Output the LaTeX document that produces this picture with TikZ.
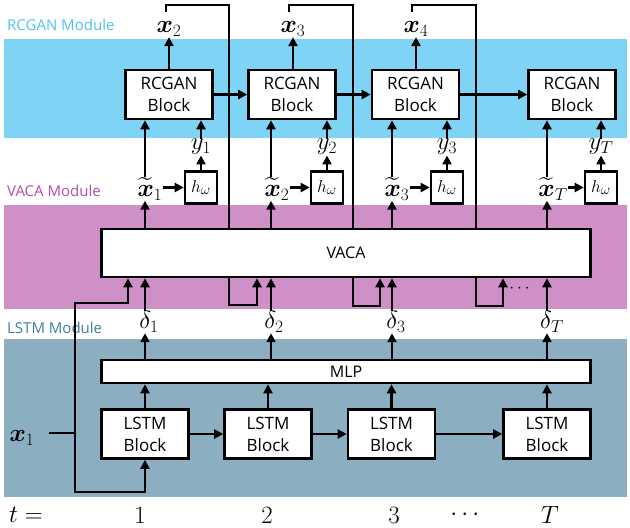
\documentclass[tikz,border=0pt]{standalone}
\usepackage{amsmath}
\usepackage[no-math]{fontspec}
\setmainfont{Open Sans}
\usetikzlibrary{arrows.meta}
\definecolor{rcband}{HTML}{7FD3F5}
\definecolor{vaband}{HTML}{CF8FC7}
\definecolor{lsband}{HTML}{8BAFC0}
\definecolor{rclab}{HTML}{4DC3F2}
\definecolor{valab}{HTML}{B34BA5}
\definecolor{lslab}{HTML}{3A7FA0}
\begin{document}
\begin{tikzpicture}[x=1pt,y=-1pt,
  ln/.style={line width=2.6pt},
  arr/.style={line width=2.6pt,-{Triangle[length=9pt,width=9pt]}},
  blk/.style={draw,line width=2.6pt,fill=white,minimum width=87pt,minimum height=49pt,align=center,inner sep=0pt,font=\fontsize{17}{22}\selectfont},
  wide/.style={draw,line width=2.6pt,fill=white,minimum width=489pt,inner sep=0pt,font=\fontsize{16}{19}\selectfont},
  hb/.style={draw,line width=2.6pt,fill=white,minimum size=32pt,inner sep=0pt,font=\fontsize{19}{22}\selectfont},
  mt/.style={inner sep=0.5pt,font=\fontsize{24}{28}\selectfont},
  modl/.style={anchor=west,inner sep=0pt,font=\fontsize{15}{18}\selectfont}]
\useasboundingbox (0,0) rectangle (630,528);
% bands
\fill[rcband] (4,39) rectangle (627,138);
\fill[vaband] (4,205) rectangle (627,309);
\fill[lsband] (4,339) rectangle (627,497);
% module labels
\node[modl,text=rclab] (mrc) at (7,25) {RCGAN Module};
\node[modl,text=valab] (mva) at (7,191) {VACA Module};
\node[modl,text=lslab] (mls) at (7,328) {LSTM Module};
% columns
\coordinate (c1) at (145,0);
\coordinate (c2) at (271,0);
\coordinate (c3) at (392,0);
\coordinate (c4) at (547,0);
% boxes
\node[blk] (r1) at (169,94.5) {RCGAN\\Block};
\node[blk] (r2) at (292,94.5) {RCGAN\\Block};
\node[blk] (r3) at (415.5,94.5) {RCGAN\\Block};
\node[blk] (r4) at (572,94.5) {RCGAN\\Block};
\node[blk] (l1) at (145,434) {LSTM\\Block};
\node[blk] (l2) at (268,434) {LSTM\\Block};
\node[blk] (l3) at (391.5,434) {LSTM\\Block};
\node[blk] (l4) at (547,434) {LSTM\\Block};
\node[wide,minimum height=48pt] (vaca) at (346,253) {VACA};
\node[wide,minimum height=23pt] (mlp) at (346,371.5) {MLP};
\node[hb] (h1) at (201,187.5) {$h_\omega$};
\node[hb] (h2) at (327,187.5) {$h_\omega$};
\node[hb] (h3) at (447,187.5) {$h_\omega$};
\node[hb] (h4) at (601,187.5) {$h_\omega$};
% math labels
\node[mt] (xo2) at (169,29) {$\boldsymbol{x}_2$};
\node[mt] (xo3) at (293,29) {$\boldsymbol{x}_3$};
\node[mt] (xo4) at (416,29) {$\boldsymbol{x}_4$};
\node[mt] (y1) at (201,147) {$y_1$};
\node[mt] (y2) at (327,147) {$y_2$};
\node[mt] (y3) at (447,147) {$y_3$};
\node[mt] (y4) at (601,147) {$y_T$};
\node[mt] (xt1) at (150,189) {$\widetilde{\boldsymbol{x}}_1$};
\node[mt] (xt2) at (277,189) {$\widetilde{\boldsymbol{x}}_2$};
\node[mt] (xt3) at (397,189) {$\widetilde{\boldsymbol{x}}_3$};
\node[mt] (xt4) at (553,189) {$\widetilde{\boldsymbol{x}}_T$};
\node[mt] (d1) at (149,322) {$\delta_1$};
\node[mt] (d2) at (274,322) {$\delta_2$};
\node[mt] (d3) at (396,322) {$\delta_3$};
\node[mt] (d4) at (552,322) {$\delta_T$};
\node[mt] (x1) at (22,438) {$\boldsymbol{x}_1$};
\node[mt,font=\fontsize{18}{20}\selectfont] (dots) at (521,289) {$\cdots$};
% time axis
\node[mt] (t0) at (26,515) {$t=$};
\node[mt] (t1) at (140,515) {$1$};
\node[mt] (t2) at (267,515) {$2$};
\node[mt] (t3) at (394,515) {$3$};
\node[mt] (t5) at (467,515) {$\cdots$};
\node[mt] (t4) at (550,515) {$T$};
% LSTM chain
\draw[arr] (l1.east) -- (l2.west);
\draw[arr] (l2.east) -- (l3.west);
\draw[arr] (l3.east) -- (l4.west);
% RCGAN chain
\draw[arr] (r1.east) -- (r2.west);
\draw[arr] (r2.east) -- (r3.west);
\draw[arr] (r3.east) -- (r4.west);
% column arrows
\foreach \i in {1,2,3,4}{
  \draw[arr] (l\i.north) -- (l\i.north |- mlp.south);
  \draw[arr] (mlp.north -| c\i) -- (d\i.south -| c\i);
  \draw[arr] (d\i.north -| c\i) -- (vaca.south -| c\i);
  \draw[arr] (vaca.north -| c\i) -- (xt\i.south -| c\i);
  \draw[arr] (xt\i.north -| c\i) -- (r\i.south -| c\i);
  \draw[arr] (xt\i.east |- h\i) -- (h\i.west);
  \draw[arr] (h\i.north) -- (y\i.south);
  \draw[arr] (y\i.north) -- (r\i.south -| y\i);
}
% outputs
\draw[arr] (r1.north -| xo2) -- (xo2.south);
\draw[arr] (r2.north -| xo3) -- (xo3.south);
\draw[arr] (r3.north -| xo4) -- (xo4.south);
% feedback lines over the top
\coordinate (s1) at (166,12);
\coordinate (f1) at (229,5);
\coordinate (s2) at (289,12);
\coordinate (f2) at (353,5);
\coordinate (s3) at (412,12);
\coordinate (f3) at (476,5);
\draw[ln] (s1) |- (f1) -- (f1 |- vaca.north);
\draw[ln] (s2) |- (f2) -- (f2 |- vaca.north);
\draw[ln] (s3) |- (f3) -- (f3 |- vaca.north);
% loops under VACA
\coordinate (g1) at (229,305);
\coordinate (a2) at (257,0);
\coordinate (g2) at (353,306);
\coordinate (a3) at (380,0);
\coordinate (g3) at (476,306);
\coordinate (a4) at (503,0);
\draw[arr] (vaca.south -| g1) -- (g1) -| (vaca.south -| a2);
\draw[arr] (vaca.south -| g2) -- (g2) -| (vaca.south -| a3);
\draw[arr] (vaca.south -| g3) -- (g3) -| (vaca.south -| a4);
% x1 input
\coordinate (j0) at (49,433);
\coordinate (j) at (75,433);
\coordinate (j1) at (75,303);
\coordinate (j2) at (75,492);
\coordinate (a1) at (128,0);
\draw[ln] (j0) -- (j);
\draw[arr] (j) -- (j1) -| (vaca.south -| a1);
\draw[arr] (j) -- (j2) -| (l1.south);
\end{tikzpicture}
\end{document}
